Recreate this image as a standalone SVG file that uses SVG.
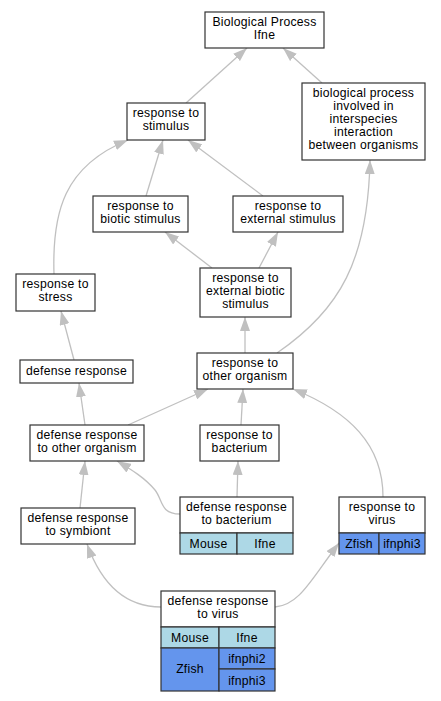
<svg xmlns="http://www.w3.org/2000/svg" width="441" height="701" viewBox="0 0 441 701">
<style>
.n{fill:#fff;stroke:#333;stroke-width:1.2}
.m{fill:#add8e6;stroke:#333;stroke-width:1.2}
.z{fill:#6495ed;stroke:#333;stroke-width:1.2}
text{font-family:"Liberation Sans",Arial,sans-serif;font-size:12.2px;letter-spacing:0.25px;fill:#000;text-anchor:middle}
.e{fill:none;stroke:#c0c0c0;stroke-width:1.3;marker-end:url(#a)}
</style>
<defs>
<marker id="a" viewBox="0 0 14 10" refX="14" refY="5" markerWidth="14" markerHeight="10" markerUnits="userSpaceOnUse" orient="auto">
<path d="M0,0L14,5L0,10z" fill="#c0c0c0"/>
</marker>
</defs>
<rect width="441" height="701" fill="#fff"/>
<g id="edges">
<path class="e" d="M186,103L247,48"/>
<path class="e" d="M322,83L283,48"/>
<path class="e" d="M146,196L163,140"/>
<path class="e" d="M263,196L188,140"/>
<path class="e" d="M54,274C52,212 64,166 128,140"/>
<path class="e" d="M212,268L165,232"/>
<path class="e" d="M259,268L278,232"/>
<path class="e" d="M245,353L245,317"/>
<path class="e" d="M277,353C340,310 368,260 370,160"/>
<path class="e" d="M74,360L61,311"/>
<path class="e" d="M85,425L79,383"/>
<path class="e" d="M128,425L208,389"/>
<path class="e" d="M241,425L243,389"/>
<path class="e" d="M383,497C383,445 350,412 293,389"/>
<path class="e" d="M80,508L85,461"/>
<path class="e" d="M180,514C160,514 163,500 155,490C145,478 132,470 117,461"/>
<path class="e" d="M237,497L238,461"/>
<path class="e" d="M161,607C122,607 100,580 87,544"/>
<path class="e" d="M275,607C300,605 312,578 339,543"/>
</g>
<g id="n1"><rect class="n" x="205" y="12" width="119" height="36"/><text x="264.5" y="26">Biological Process</text><text x="264.5" y="39">Ifne</text></g>
<g id="n2"><rect class="n" x="127" y="103" width="78" height="37"/><text x="166" y="117">response to</text><text x="166" y="130">stimulus</text></g>
<g id="n3"><rect class="n" x="302" y="83" width="123" height="77"/><text x="363.5" y="97">biological process</text><text x="363.5" y="110">involved in</text><text x="363.5" y="123">interspecies</text><text x="363.5" y="136">interaction</text><text x="363.5" y="149">between organisms</text></g>
<g id="n4"><rect class="n" x="93" y="196" width="95" height="36"/><text x="140.5" y="210">response to</text><text x="140.5" y="223">biotic stimulus</text></g>
<g id="n5"><rect class="n" x="233" y="196" width="110" height="36"/><text x="288" y="210">response to</text><text x="288" y="223">external stimulus</text></g>
<g id="n6"><rect class="n" x="16" y="274" width="79" height="37"/><text x="55.5" y="288">response to</text><text x="55.5" y="301">stress</text></g>
<g id="n7"><rect class="n" x="200" y="268" width="91" height="49"/><text x="245.5" y="282">response to</text><text x="245.5" y="295">external biotic</text><text x="245.5" y="308">stimulus</text></g>
<g id="n8"><rect class="n" x="20" y="360" width="113" height="23"/><text x="76.5" y="375">defense response</text></g>
<g id="n9"><rect class="n" x="197" y="353" width="96" height="36"/><text x="245" y="367">response to</text><text x="245" y="380">other organism</text></g>
<g id="n10"><rect class="n" x="30" y="425" width="114" height="36"/><text x="87" y="439">defense response</text><text x="87" y="452">to other organism</text></g>
<g id="n11"><rect class="n" x="200" y="425" width="79" height="36"/><text x="239.5" y="439">response to</text><text x="239.5" y="452">bacterium</text></g>
<g id="n12"><rect class="n" x="21" y="508" width="114" height="36"/><text x="78" y="522">defense response</text><text x="78" y="535">to symbiont</text></g>
<g id="n13"><rect class="n" x="180" y="497" width="113" height="36"/><text x="236.5" y="511">defense response</text><text x="236.5" y="524">to bacterium</text>
<rect class="m" x="180" y="533" width="57" height="21"/><rect class="m" x="237" y="533" width="56" height="21"/><text x="208.5" y="548">Mouse</text><text x="265" y="548">Ifne</text></g>
<g id="n14"><rect class="n" x="339" y="497" width="86" height="36"/><text x="382" y="511">response to</text><text x="382" y="524">virus</text>
<rect class="z" x="339" y="533" width="40" height="21"/><rect class="z" x="379" y="533" width="46" height="21"/><text x="359" y="548">Zfish</text><text x="402" y="548">ifnphi3</text></g>
<g id="n15"><rect class="n" x="161" y="591" width="114" height="36"/><text x="218" y="605">defense response</text><text x="218" y="618">to virus</text>
<rect class="m" x="161" y="627" width="58" height="21"/><rect class="m" x="219" y="627" width="56" height="21"/><text x="190" y="642">Mouse</text><text x="247" y="642">Ifne</text>
<rect class="z" x="161" y="648" width="58" height="43"/><rect class="z" x="219" y="648" width="56" height="21"/><rect class="z" x="219" y="669" width="56" height="22"/><text x="190" y="673">Zfish</text><text x="247" y="663">ifnphi2</text><text x="247" y="685">ifnphi3</text></g>
</svg>
